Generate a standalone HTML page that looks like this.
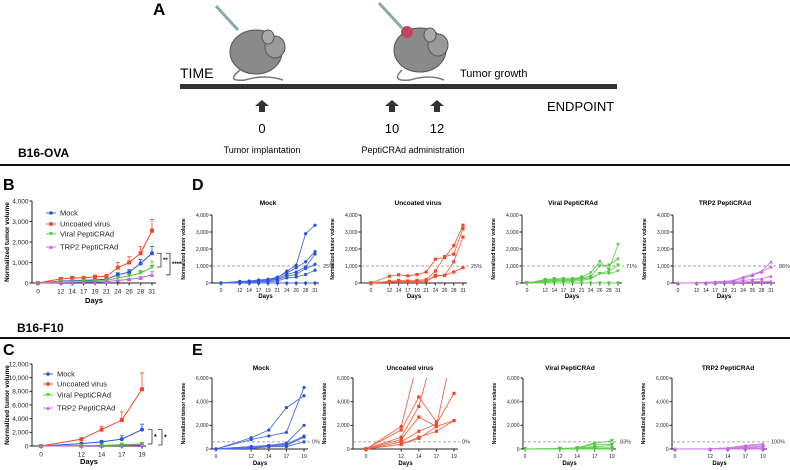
<!DOCTYPE html>
<html><head><meta charset="utf-8">
<style>
html,body{margin:0;padding:0;background:#fff;}
svg{display:block;font-family:"Liberation Sans",sans-serif;}
</style></head>
<body>
<svg id="fig" width="790" height="470" viewBox="0 0 790 470" xmlns="http://www.w3.org/2000/svg">
  <g>
    <text x="153" y="15" font-size="17" font-weight="bold">A</text>
    <g>
      <line x1="216" y1="6" x2="238" y2="30" stroke="#8aa" stroke-width="3"/>
      <path d="M240 70 Q225 82 245 80 Q265 74 283 80" fill="none" stroke="#777" stroke-width="1.5"/>
      <ellipse cx="256" cy="52" rx="26" ry="22" fill="#8a8a8a" stroke="#555" stroke-width="1"/>
      <ellipse cx="275" cy="47" rx="10" ry="11" fill="#9a9a9a" stroke="#555"/>
      <ellipse cx="268" cy="37" rx="6" ry="7" fill="#aaa" stroke="#555"/>
    </g>
    <g>
      <line x1="379" y1="3" x2="402" y2="28" stroke="#8aa" stroke-width="3"/>
      <path d="M402 70 Q390 82 410 80 Q430 74 444 80" fill="none" stroke="#777" stroke-width="1.5"/>
      <ellipse cx="420" cy="50" rx="26" ry="22" fill="#8a8a8a" stroke="#555"/>
      <ellipse cx="438" cy="45" rx="10" ry="11" fill="#9a9a9a" stroke="#555"/>
      <ellipse cx="430" cy="35" rx="6" ry="7" fill="#aaa" stroke="#555"/>
      <circle cx="407" cy="32" r="6" fill="#c0465e"/>
    </g>
    <text x="180" y="78" font-size="14">TIME</text>
    <text x="460" y="77" font-size="11">Tumor growth</text>
    <rect x="180" y="84" width="437" height="5" fill="#333"/>
    <text x="547" y="111" font-size="13">ENDPOINT</text>
    <g fill="#333">
      <polygon points="262,100 269,106 265,106 265,112 259,112 259,106 255,106"/>
      <polygon points="392,100 399,106 395,106 395,112 389,112 389,106 385,106"/>
      <polygon points="437,100 444,106 440,106 440,112 434,112 434,106 430,106"/>
    </g>
    <g font-size="13" text-anchor="middle">
      <text x="262" y="133">0</text><text x="392" y="133">10</text><text x="437" y="133">12</text>
    </g>
    <text x="262" y="153" font-size="9" text-anchor="middle">Tumor implantation</text>
    <text x="413" y="153" font-size="9" text-anchor="middle">PeptiCRAd administration</text>
  </g>
  <text x="18" y="157" font-size="12" font-weight="bold">B16-OVA</text>
  <rect x="0" y="164" width="790" height="2" fill="#111"/>
  <text x="17" y="332" font-size="12" font-weight="bold">B16-F10</text>
  <rect x="0" y="337" width="790" height="2" fill="#111"/>
  <g font-size="16" font-weight="bold">
    <text x="3" y="190">B</text><text x="3" y="355">C</text>
    <text x="192" y="190">D</text><text x="192" y="355">E</text>
  </g>
  <g id="charts"></g>
</svg>
<script>
// ---------- data ----------
const daysOVA = [0,12,14,17,19,21,24,26,28,31];
const idxOVA = [0,2,3,4,5,6,7,8,9,10];
const daysF10 = [0,12,14,17,19];
const idxF10 = [0,2,3,4,5];
const ticksOVA = [0,1000,2000,3000,4000];
const ticksC = [0,2000,4000,6000,8000,10000,12000];
const ticksE = [0,2000,4000,6000];

const bMock = [0,100,120,130,150,180,400,530,950,1450];
const bMockErr = [0,20,30,30,40,50,100,120,200,330];
const bUncoated = [0,200,250,250,300,330,750,1000,1450,2550];
const bUncoatedErr = [0,50,60,60,80,80,250,280,320,550];
const bViral = [0,80,100,100,100,120,250,350,480,780];
const bViralErr = [0,20,20,20,20,30,60,90,130,280];
const bTrp2 = [0,20,30,40,50,60,120,180,250,400];
const bTrp2Err = [0,10,10,10,10,20,30,40,60,150];

const cMock = [0,350,600,1000,2400];
const cMockErr = [0,100,150,500,800];
const cUncoated = [0,1000,2400,3800,8300];
const cUncoatedErr = [0,150,500,1200,2400];
const cViral = [0,50,100,200,300];
const cViralErr = [0,20,30,60,100];
const cTrp2 = [0,30,60,100,150];
const cTrp2Err = [0,10,20,30,50];

const dMock = [
 [0,100,100,150,200,300,700,1050,2900,3400],
 [0,80,120,180,220,350,600,900,1250,1850],
 [0,50,80,120,150,250,500,650,950,1700],
 [0,30,60,100,120,200,400,500,850,1100],
 [0,20,40,60,80,120,300,350,500,750],
 [0,0,0,0,0,0,0,0,0,0]];
const dUncoated = [
 [0,400,480,420,500,650,1400,1500,2200,3400],
 [0,100,150,120,150,200,700,1550,1700,3200],
 [0,80,100,100,100,120,450,450,1250,2700],
 [0,50,80,80,80,100,400,450,650,900]];
const dViral = [
 [0,200,250,250,250,350,600,1250,800,2250],
 [0,150,200,180,200,300,400,1000,1050,1400],
 [0,100,150,150,150,250,300,550,700,1050],
 [0,50,100,100,100,150,250,550,550,700],
 [0,0,0,0,0,0,0,0,0,0]];
const dTrp2 = [
 [0,20,40,80,100,150,350,500,700,1250],
 [0,10,30,60,80,120,300,450,650,950],
 [0,0,20,40,50,80,150,200,250,400],
 [0,0,10,20,30,40,60,80,100,100],
 [0,0,0,10,10,20,30,40,40,50]];

const eMock = [
 [0,950,1600,3500,4500],[0,800,1100,1400,5200],[0,200,300,500,2000],
 [0,200,300,400,1100],[0,100,250,300,1000],[0,50,200,200,600]];
const eUncoated = [
 [0,1900,7800,null,null],[0,1600,4400,2300,null],[0,1000,3600,9000,null],
 [0,800,2700,1900,9000],[0,600,1500,2100,4700],[0,400,1000,1500,2400],[0,400,900,1900,2400]];
const eViral = [
 [0,50,100,500,700],[0,30,100,400,400],[0,20,80,200,300],[0,10,50,100,100],[0,0,0,50,50],[0,0,0,0,0]];
const eTrp2 = [
 [0,30,100,300,450],[0,20,80,250,350],[0,10,50,150,250],[0,0,30,100,150],[0,0,0,50,50],[0,0,0,0,0]];

const legendNames = ["Mock","Uncoated virus","Viral PeptiCRAd","TRP2 PeptiCRAd"];
const thrOVA = 1000, thrF10 = 600;
const pctD = ["25%","25%","71%","86%"];
const pctE = ["0%","0%","83%","100%"];

// ---------- drawing ----------
const NS = "http://www.w3.org/2000/svg";
const root = document.getElementById('charts');
const COL = {blue:"#2a52e0", red:"#f04a2a", green:"#4cc83a", purple:"#c060e0"};
const LIGHT = {blue:"#4a6ce4", red:"#f2664a", green:"#62cf52", purple:"#cc7ae6"};
function mk(tag, attrs, parent){const e=document.createElementNS(NS,tag);for(const k in attrs)e.setAttribute(k,attrs[k]);(parent||root).appendChild(e);return e;}
function fmt(v){return v.toLocaleString('en-US');}
function marker(g,kind,x,y,c,s){
  let e;
  if(kind==='circle') e=mk('circle',{cx:x,cy:y,r:s,fill:c},g);
  else if(kind==='square') e=mk('rect',{x:x-s,y:y-s,width:2*s,height:2*s,fill:c},g);
  else if(kind==='tdown') e=mk('polygon',{points:`${x-s*1.2},${y-s} ${x+s*1.2},${y-s} ${x},${y+s}`,fill:c},g);
  else e=mk('polygon',{points:`${x-s*1.2},${y+s} ${x+s*1.2},${y+s} ${x},${y-s}`,fill:c},g);
  
  
}
let clipId=0;
function panel(o){
  const g=mk('g',{});
  
  
  const yS=v=>o.y0-(v/o.max)*(o.y0-o.yTop);
  const xS=i=>o.x0+o.idx[i]*o.step;
  const fs=o.fs;
  const xEnd=xS(o.idx.length-1)+4;
  const ya=mk('line',{x1:o.ax,y1:o.yTop,x2:o.ax,y2:o.y0,stroke:"#222","stroke-width":1},g);
  
  
  const xa=mk('line',{x1:o.ax,y1:o.y0,x2:xEnd,y2:o.y0,stroke:"#222","stroke-width":1},g);
  
  
  o.ticks.forEach(t=>{
    mk('line',{x1:o.ax-2.5,y1:yS(t),x2:o.ax,y2:yS(t),stroke:"#222"},g);
    const tx=mk('text',{x:o.ax-3.5,y:yS(t)+fs*0.35,"font-size":fs,"text-anchor":"end",fill:"#222"},g);
    tx.textContent=fmt(t);
    
    
  });
  o.days.forEach((d,i)=>{
    mk('line',{x1:xS(i),y1:o.y0,x2:xS(i),y2:o.y0+2.5,stroke:"#222"},g);
    const tx=mk('text',{x:xS(i),y:o.y0+4+fs,"font-size":fs,"text-anchor":"middle",fill:"#222"},g);
    tx.textContent=d;
    
    
  });
  const xt=mk('text',{x:(o.ax+xEnd)/2,y:o.y0+o.xtOff,"font-size":fs+1,"font-weight":"bold","text-anchor":"middle"},g);
  xt.textContent="Days";
  
  
  const ymid=(o.y0+o.yTop)/2;
  const yt=mk('text',{x:o.ylx,y:ymid,"font-size":fs,"font-weight":"bold","text-anchor":"middle",transform:`rotate(-90 ${o.ylx} ${ymid})`},g);
  yt.textContent="Normalized tumor volume";
  
  
  if(o.title){
    const tt=mk('text',{x:o.titleX,y:o.titleY,"font-size":fs+1.5,"font-weight":"bold","text-anchor":"middle"},g);
    tt.textContent=o.title;
    
    
  }
  if(o.thr!=null){
    const tl=mk('line',{x1:o.ax,y1:yS(o.thr),x2:xEnd+2,y2:yS(o.thr),stroke:"#888","stroke-dasharray":"3,2","stroke-width":0.8},g);
    
    
    const pt=mk('text',{x:xEnd+4,y:yS(o.thr)+fs*0.35,"font-size":fs+0.5,fill:"#333"},g);
    pt.textContent=o.pct;
    
    
  }
  const cid='clip'+(clipId++);
  const cp=mk('clipPath',{id:cid},g);
  mk('rect',{x:o.ax-6,y:o.yTop,width:xEnd-o.ax+12,height:o.y0-o.yTop+6},cp);
  const sg=mk('g',{"clip-path":`url(#${cid})`},g);
  o.series.forEach(s=>{
    const sgg=mk('g',{},sg);
    
    
    let d='';
    s.vals.forEach((v,i)=>{ if(v==null) return; d+=(d?'L':'M')+xS(i)+' '+yS(v)+' '; });
    const p=mk('path',{d:d,fill:"none",stroke:s.line,"stroke-width":s.lw||0.9},sgg);
    
    
    if(s.err){
      s.vals.forEach((v,i)=>{ const e=s.err[i]; if(!e) return;
        mk('line',{x1:xS(i),y1:yS(v),x2:xS(i),y2:yS(v+e),stroke:s.line,"stroke-width":0.8},sgg);
        mk('line',{x1:xS(i)-2,y1:yS(v+e),x2:xS(i)+2,y2:yS(v+e),stroke:s.line,"stroke-width":0.8},sgg);
      });
    }
    s.vals.forEach((v,i)=>{ if(v==null||yS(v)<o.yTop-2) return; marker(sgg,s.marker,xS(i),yS(v),s.color,s.ms||1.6); });
  });
  return {g,xS,yS};
}
const kinds=[["blue","circle"],["red","square"],["green","tdown"],["purple","tup"]];
function legend(x,ys,fs){
  const g=mk('g',{});
  
  
  legendNames.forEach((n,i)=>{
    const c=COL[kinds[i][0]];
    mk('line',{x1:x-5,y1:ys[i],x2:x+5,y2:ys[i],stroke:LIGHT[kinds[i][0]]},g);
    marker(g,kinds[i][1],x,ys[i],c,1.8);
    const t=mk('text',{x:x+9,y:ys[i]+fs*0.35,"font-size":fs,fill:"#222"},g);
    t.textContent=n;
    
    
  });
}
function bracket(g,x,y1,y2,label,fs){
  mk('path',{d:`M${x-4} ${y1} H${x} V${y2} H${x-4}`,fill:"none",stroke:"#333","stroke-width":0.8},g);
  const t=mk('text',{x:x+2,y:(y1+y2)/2+2,"font-size":fs,"font-weight":"bold"},g);
  t.textContent=label;
  
  
}
function meanSeries(arrs){
  return arrs.map((a,i)=>({name:'series-'+legendNames[i].toLowerCase().replace(/ /g,'-'),vals:a[0],err:a[1],
    color:COL[kinds[i][0]],line:COL[kinds[i][0]],marker:kinds[i][1],ms:2,lw:1}));
}
function indiv(arr,ci,prefix){
  return arr.map((v,i)=>({name:prefix+'-mouse-'+(i+1),vals:v,color:COL[kinds[ci][0]],line:LIGHT[kinds[ci][0]],marker:kinds[ci][1],ms:1.6,lw:0.9}));
}

const pb=panel({name:'panel-b-chart',ax:32,y0:283,yTop:201,max:4000,ticks:ticksOVA,x0:38,step:11.4,idx:idxOVA,days:daysOVA,fs:6.5,xtOff:20,ylx:9,
  series:meanSeries([[bMock,bMockErr],[bUncoated,bUncoatedErr],[bViral,bViralErr],[bTrp2,bTrp2Err]])});
legend(51,[213,224,234,247],7.5);
bracket(pb.g,161,pb.yS(bMock[9]),pb.yS(bViral[9]),"**",6);
bracket(pb.g,170,pb.yS(bMock[9]),pb.yS(bTrp2[9]),"****",6);

const pc=panel({name:'panel-c-chart',ax:32,y0:446,yTop:364,max:12000,ticks:ticksC,x0:41,step:20.2,idx:idxF10,days:daysF10,fs:6.5,xtOff:18,ylx:9,
  series:meanSeries([[cMock,cMockErr],[cUncoated,cUncoatedErr],[cViral,cViralErr],[cTrp2,cTrp2Err]])});
legend(48,[374,384,395,408],7.5);
bracket(pc.g,152,pc.yS(cMock[4]),pc.yS(cViral[4]),"*",7);
bracket(pc.g,162,pc.yS(cMock[4]),pc.yS(cTrp2[4]),"*",7);

const dCfg=[
 {t:"Mock",ax:212,x0:221,x1:315,tx:268,d:dMock,ci:0},
 {t:"Uncoated virus",ax:361,x0:371,x1:463,tx:418,d:dUncoated,ci:1},
 {t:"Viral PeptiCRAd",ax:522,x0:527,x1:618,tx:573,d:dViral,ci:2},
 {t:"TRP2 PeptiCRAd",ax:673,x0:678,x1:771,tx:725,d:dTrp2,ci:3}];
dCfg.forEach((c,k)=>{
  panel({name:'panel-d-'+c.t.toLowerCase().replace(/ /g,'-'),ax:c.ax,y0:283,yTop:215,max:4000,ticks:ticksOVA,x0:c.x0,step:(c.x1-c.x0)/10,idx:idxOVA,days:daysOVA,fs:5,
    xtOff:15,ylx:c.ax-27,title:c.t,titleX:c.tx,titleY:205,thr:thrOVA,pct:pctD[k],series:indiv(c.d,c.ci,'d')});
});
const eCfg=[
 {t:"Mock",ax:212,x0:216,x1:304,tx:261,d:eMock,ci:0},
 {t:"Uncoated virus",ax:353,x0:366,x1:454,tx:410,d:eUncoated,ci:1},
 {t:"Viral PeptiCRAd",ax:523,x0:525,x1:612,tx:570,d:eViral,ci:2},
 {t:"TRP2 PeptiCRAd",ax:672,x0:675,x1:763,tx:728,d:eTrp2,ci:3}];
eCfg.forEach((c,k)=>{
  panel({name:'panel-e-'+c.t.toLowerCase().replace(/ /g,'-'),ax:c.ax,y0:449,yTop:378,max:6000,ticks:ticksE,x0:c.x0,step:(c.x1-c.x0)/5,idx:idxF10,days:daysF10,fs:5,
    xtOff:16,ylx:c.ax-27,title:c.t,titleX:c.tx,titleY:370,thr:thrF10,pct:pctE[k],series:indiv(c.d,c.ci,'e')});
});
</script>
</body></html>
